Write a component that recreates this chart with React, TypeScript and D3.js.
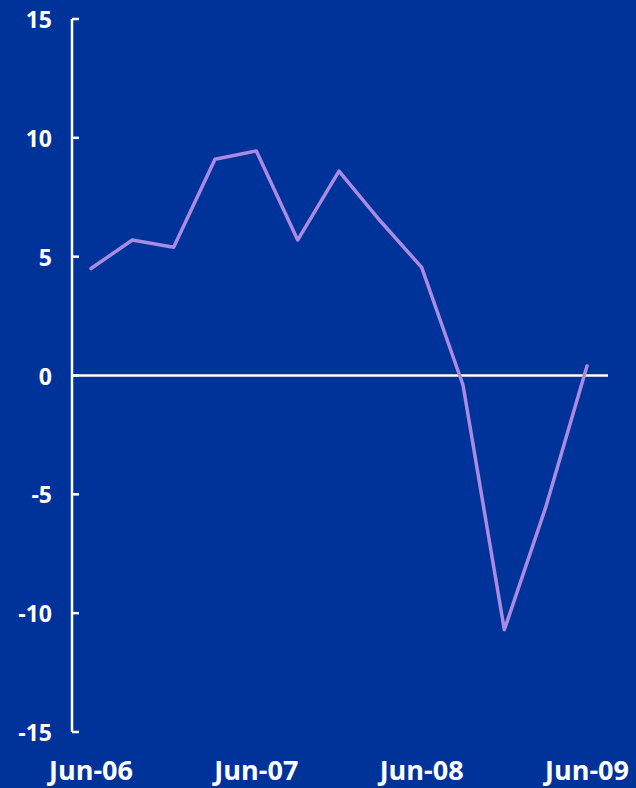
import React from "react";
import * as d3 from "d3";

const periods = ["Jun-06","Sep-06","Dec-06","Mar-07","Jun-07","Sep-07","Dec-07","Mar-08","Jun-08","Sep-08","Dec-08","Mar-09","Jun-09"];
const values = [4.5, 5.7, 5.4, 9.1, 9.45, 5.7, 8.6, 6.5, 4.55, -0.4, -10.7, -5.55, 0.4];
const xTickLabels = ["Jun-06", "Jun-07", "Jun-08", "Jun-09"];
const yTicks = [15, 10, 5, 0, -5, -10, -15];

const W = 636, H = 788;
const bg = "#003399";
const lineColor = "#a98be3";
const font = "'Open Sans', 'Noto Sans', sans-serif";

export default function App() {
  const x = d3.scalePoint<string>().domain(periods).range([91, 587]);
  const y = d3.scaleLinear().domain([-15, 15]).range([732, 19]);
  const line = d3.line<number>().x((_, i) => x(periods[i])!).y(d => y(d));
  const axisX = 72;
  return (
    <svg width={W} height={H} style={{ position: "absolute", left: 0, top: 0, background: bg }}>
      <rect width={W} height={H} fill={bg} />
      <line x1={axisX} x2={axisX} y1={y(15)} y2={y(-15)} stroke="#fff" strokeWidth={2.5} />
      {yTicks.map(t => (
        <g key={t}>
          <line x1={axisX} x2={axisX + 7} y1={y(t)} y2={y(t)} stroke="#fff" strokeWidth={2.5} />
          <text x={52} y={y(t) + 9} textAnchor="end" fill="#fff" fontFamily={font} fontWeight="bold" fontSize={23}>{t}</text>
        </g>
      ))}
      <line x1={axisX} x2={608} y1={y(0)} y2={y(0)} stroke="#fff" strokeWidth={2.5} />
      <path d={line(values)!} fill="none" stroke={lineColor} strokeWidth={3.5} strokeLinejoin="round" strokeLinecap="round" />
      {xTickLabels.map(l => (
        <text key={l} x={x(l)} y={780} textAnchor="middle" fill="#fff" fontFamily={font} fontWeight="bold" fontSize={27}>{l}</text>
      ))}
    </svg>
  );
}
